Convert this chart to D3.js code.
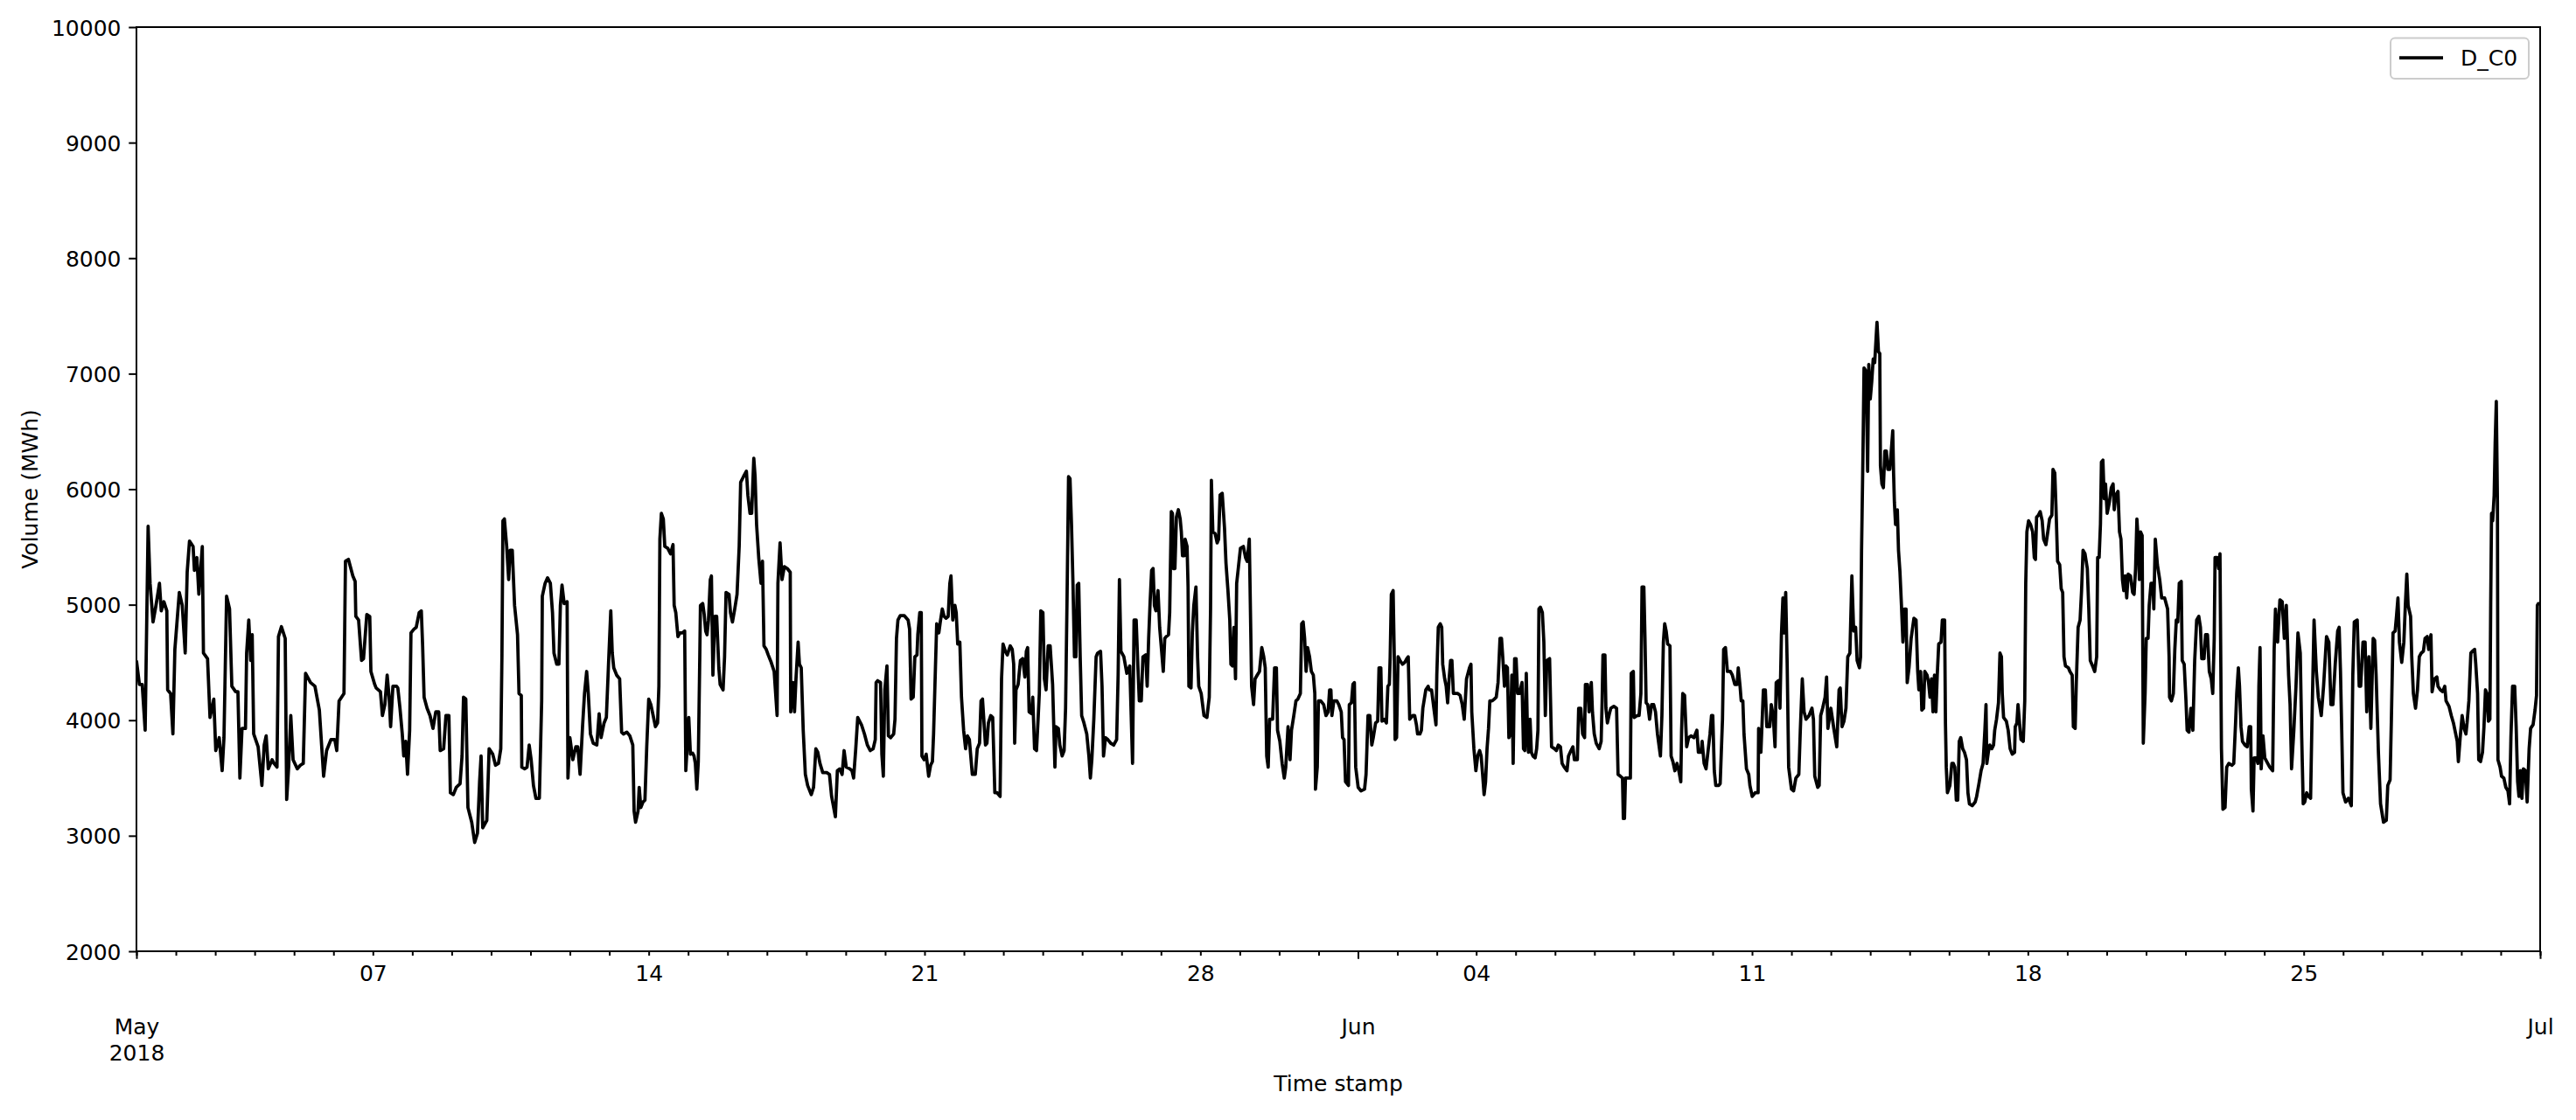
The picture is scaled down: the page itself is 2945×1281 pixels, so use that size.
<!DOCTYPE html>
<html><head><meta charset="utf-8">
<script src="https://cdn.jsdelivr.net/npm/d3@7"></script>
<style>
body{margin:0;background:#fff}
svg{display:block}
</style>
</head><body>
<svg id="chart" width="2945" height="1281"></svg>
<script>
// ---------------- data ----------------
const seriesName = "D_C0";
const xTitle = "Time stamp";
const yTitle = "Volume (MWh)";
const startDate = "2018-05-01T00:00:00Z";
const endDate = "2018-07-01T00:00:00Z";
const yDomain = [2000, 10000];
const yTicks = [2000, 3000, 4000, 5000, 6000, 7000, 8000, 9000, 10000];
// [hours since 2018-05-01 00:00, volume MWh]
const readings = [
[0,4517],[1.8,4310],[3.5,4310],[5.3,3913],[7.1,5679],[8.3,5185],[10.1,4851],[11.9,4994],[14,5185],[15.1,4947],[16.7,5026],[18.5,4947],[19,4263],[20.8,4231],[22.2,3881],[23.4,4613],[26.1,5106],[27.9,4994],[29.7,4581],[30.9,5281],[32.3,5551],[34.5,5504],[35.3,5297],[36.8,5408],[38,5090],[40.1,5504],[40.8,4581],[43.3,4533],[44.8,4024],[47.1,4183],[48.3,3737],[50.4,3849],[52.2,3563],[53.3,3849],[54.9,5074],[56.7,4963],[58.1,4294],[60.4,4247],[61.8,4247],[63,3499],[64.3,3929],[66.4,3929],[67.1,4581],[68.4,4867],[69.6,4517],[70.5,4740],[71.4,3881],[74.1,3770],[76.4,3435],[77.8,3785],[79,3865],[80.3,3579],[82.6,3658],[83.8,3626],[85.6,3594],[86.5,4724],[88.3,4810],[90.6,4708],[91.5,3314],[92.7,3594],[94,4040],[95.4,3658],[98,3579],[99.8,3610],[101.6,3626],[103,4406],[106,4326],[108.7,4294],[111.4,4088],[114,3515],[115.8,3737],[118.5,3833],[120.8,3833],[122,3737],[123.4,4167],[126.4,4231],[127.3,5376],[129.1,5392],[131.8,5249],[133.2,5201],[133.6,4899],[135.3,4867],[137.1,4517],[138.3,4533],[140.3,4915],[142.1,4899],[142.8,4422],[145.1,4310],[146,4279],
[148.6,4247],[149.8,4040],[151.3,4135],[152.7,4390],[153.9,4199],[154.8,3944],[156.2,4294],[158.4,4294],[159.2,4279],[160.5,4104],[161.9,3881],[162.8,3690],[164,3817],[165.1,3531],[166.4,3913],[167.2,4756],[169,4788],[170.4,4804],[172.2,4931],[173.5,4947],[174.3,4644],[175.2,4199],[177,4104],[178.8,4040],[180.6,3929],[182.3,4072],[184.1,4072],[185,3737],[187.1,3753],[188.5,4040],[190.3,4040],[191.2,3372],[193,3356],[194.8,3419],[197.1,3451],[198.3,3690],[199.2,4199],[200.6,4183],[201.9,3244],[204.2,3117],[206,2942],[207.7,3022],[209,3467],[209.9,3690],[210.9,3069],[213.4,3133],[214.8,3753],[217,3706],[218.7,3610],[220.5,3626],[221.9,3753],[222.6,4549],[223.2,5726],[224.1,5742],[225.5,5504],[226.7,5217],[227.6,5472],[228.9,5472],[230.3,4994],[232.1,4740],[233,4231],[234.4,4215],[234.7,3594],[236.5,3579],[237.9,3594],[239.2,3785],[240.4,3658],[241.8,3435],[243.3,3324],[245.4,3324],[246.8,4167],[247.2,5074],[248.9,5185],[250.4,5233],[252.1,5185],[253.4,4931],[254.3,4581],[256,4485],[257.3,4485],[258.2,4994],[259.2,5170],[260.5,5010],[262.3,5026],[262.8,3499],[264,3849],[265.8,3658],[267.6,3770],[268.8,3770],[270.2,3531],[271.7,3944],[272.9,4231],[274.2,4422],[275.2,4231],[276.5,3881],[278.2,3801],[280.4,3785],[281.8,4056],[283,3849],[284.8,3976],[286.2,4024],[287.7,4549],[288.9,4947],
[289.8,4581],[290.7,4454],[292.5,4390],[294.3,4358],[295.5,3897],[296.6,3881],[298.7,3897],[300.5,3865],[302.3,3785],[303.1,3213],[304,3117],[305.5,3213],[306.2,3419],[307.2,3244],[308.5,3292],[309.7,3308],[310.8,3770],[312,4183],[313.3,4135],[314.7,4040],[316.1,3944],[317.4,3976],[318.2,4294],[318.8,5567],[319.7,5790],[320.9,5742],[321.8,5504],[323.6,5488],[325.3,5440],[326.8,5520],[327.5,4994],[328.5,4931],[329.8,4724],[331,4756],[332.5,4756],[333.9,4772],[334.6,3563],[336.4,4024],[337.4,3706],[338.7,3715],[339.6,3690],[340.4,3626],[341.3,3403],[342.2,3642],[343.1,4549],[343.5,4994],[344.9,5010],[345.8,4915],[346.7,4772],[347.5,4740],[348.4,4867],[349.5,5217],[350.2,5249],[351.1,4390],[352.3,4899],[353.4,4899],[354.7,4454],[355.5,4310],[357.3,4263],[358.2,4549],[359.1,5106],[360.9,5090],[361.8,4931],[363,4851],[364.4,4963],[365.8,5090],[367.1,5504],[368,6060],[369.7,6108],[371.5,6156],[372.4,5949],[373.7,5790],[374.7,5790],[376,6267],[376.8,6108],[377.7,5695],[379,5408],[380.4,5185],[381.3,5376],[382.2,4644],[383.6,4613],[384.8,4565],[386.6,4501],[388.4,4422],[390.2,4040],[390.7,5185],[392,5535],[393.2,5217],[394.6,5329],[396.4,5313],[398.2,5281],[398.5,4072],[399.9,4326],[400.8,4072],[401.7,4358],[403,4676],[403.8,4485],[404.9,4454],[406.1,3913],[407.4,3531],[408.8,3435],[411,3356],[412.4,3419],[413.8,3753],[415,3722],[416.3,3626],[418,3547],[420.4,3547],[422.1,3531],[423.4,3340],[425.7,3165],[426.9,3563],[428.3,3579],[429.8,3531],[431,3737],[432.3,3594],
[434.5,3579],[435.8,3563],[436.8,3499],[438.1,3753],[439.3,4024],[441.6,3960],[443.4,3881],[445.2,3785],[446.9,3737],[448.7,3753],[450,3833],[450.5,4326],[451.4,4342],[453.2,4326],[454,3706],[454.9,3515],[455.8,4263],[457.1,4470],[458,3865],[459.4,3849],[461.2,3881],[462,4008],[462.9,4708],[463.8,4867],[465.2,4905],[467.7,4905],[470,4867],[470.9,4788],[471.8,4183],[473.1,4199],[474.1,4549],[475.4,4565],[475.9,4740],[477.1,4931],[478,4931],[478.4,3690],[479.8,3658],[481,3706],[482.5,3515],[483.7,3610],[484.8,3642],[485.5,3881],[486.6,4438],[487.4,4835],[488.7,4756],[489.6,4851],[490.8,4963],[491.9,4899],[493.1,4883],[494.4,4899],[495.4,5185],[496.1,5249],[497.2,4867],[498.5,4994],[499.3,4931],[500.2,4660],[501.5,4676],[502.5,4199],[503.8,3913],[505,3753],[506.1,3865],[507.3,3833],[509.1,3531],[510.9,3531],[512.1,3753],[513.5,3801],[514.4,4167],[515.3,4183],[517.1,3785],[518,3801],[518.9,3976],[520.3,4040],[521.5,4024],[522.1,3737],[522.8,3372],[524.2,3372],[526,3340],[526.9,4358],[527.8,4660],[529.2,4597],[530.4,4565],[532.2,4644],[533.4,4613],[534.3,4485],[534.9,3801],[535.7,4263],[537,4310],[538.4,4517],[539.8,4533],[541.1,4374],[542,4597],[542.8,4629],[543.7,4072],[545.2,4056],[545.9,4199],[547,3753],[548.2,3737],[549.1,3992],[549.9,4231],[550.8,4947],[552.1,4931],[553,4358],[554,4263],[555.3,4644],[556.5,4644],[558,4310],[559.4,3594],[560.1,3944],[561.5,3929],[562.4,3785],[563.8,3690],[565,3737],[565.9,4104],[566.8,5058],[567.7,6108],[568.6,6092],[569.5,5695],[570.4,5185],[571.3,4549],[572.2,4549],[573,5170],[573.9,5185],[574.8,4549],[575.7,4040],[577.1,3976],
[578.8,3881],[580.1,3690],[581,3499],[581.9,3658],[583.1,4008],[584.5,4549],[585.4,4581],[587.2,4597],[588.1,4294],[589,3690],[590.2,3849],[591.6,3833],[593.4,3801],[595.2,3785],[597,3833],[597.9,4390],[598.7,5217],[599.6,4597],[601.4,4549],[603.2,4406],[605,4470],[606.7,3626],[607.6,4867],[608.9,4867],[609.8,4517],[610.8,4167],[612,4167],[613,4549],[614.7,4565],[615.6,4294],[616.5,4708],[617.4,5026],[618.3,5297],[619.2,5313],[620,4994],[620.9,4947],[622.2,5122],[623.2,4804],[624.5,4581],[625.4,4422],[626.3,4708],[627.2,4724],[628.6,4740],[629.3,4931],[630.3,5806],[631,5790],[631.6,5313],[632.5,5313],[633.4,5758],[634.6,5822],[635.7,5742],[636.4,5631],[637.1,5424],[638.2,5424],[638.7,5567],[639.9,5504],[640.5,5154],[641,4294],[642.3,4279],[643.1,4756],[644,4994],[645.3,5154],[646.3,4549],[647,4294],[648.5,4231],[650.2,4040],[652,4024],[653.4,4199],[654.2,4963],[654.7,6077],[655.6,5631],[657,5615],[658.2,5535],[659.1,5567],[660,5949],[661.3,5965],[662.7,5663],[663.6,5360],[664.8,5122],[665.9,4867],[666.6,4485],[667.6,4470],[668.4,4804],[669.4,4358],[670.1,5185],[671.2,5329],[672.4,5488],[674.2,5504],[675.5,5408],[676.5,5376],[677.8,5567],[678.7,4756],[679.2,4294],[680.4,4135],[681.3,4358],[682.6,4390],[684,4422],[685.4,4629],[686.6,4549],[687.5,4454],[688.4,3690],[689.3,3594],[690.2,4008],[692,4008],[693.2,4454],[694.3,4454],[695,3913],[696.4,3817],[697.8,3626],[699.1,3499],[700,3594],[701.4,3944],[702.6,3658],[703.5,3913],[704.9,4040],[706.2,4167],[707.4,4183],[708.9,4231],[709.7,4835],[710.6,4851],[711.5,4708],[712.4,4422],[713.3,4629],[714.5,4549],[715.6,4422],[716.8,4390],[717.7,4231],
[718.1,3403],[719.2,3594],[719.9,4167],[721.3,4167],[723.1,4135],[724.5,4040],[725.8,4072],[726.7,4263],[727.5,4263],[728.1,4040],[729.3,4167],[731.1,4167],[732.3,4135],[733.8,4072],[734.6,3849],[735.5,3833],[736.4,3467],[738.2,3435],[738.7,4135],[740,4151],[740.9,4310],[741.8,4326],[742.6,3594],[744.1,3419],[745.8,3388],[748,3403],[748.9,3531],[750.1,4040],[751.2,4040],[752.4,3785],[753.3,3849],[754.7,3976],[756,3992],[756.8,4454],[757.9,4454],[758.6,3992],[760,4008],[761.3,3976],[762.2,4294],[763.1,4310],[763.6,4549],[764.3,5090],[765.4,5122],[766.1,4549],[766.6,3833],[767.5,3849],[768.4,4549],[769.6,4517],[771.1,4485],[772.5,4501],[773.7,4533],[774.6,4549],[775.5,4008],[777.3,4040],[778.5,4040],[779.6,3960],[780.3,3881],[781.7,3881],[782.6,3913],[783.5,4104],[784.4,4183],[785.3,4263],[786.7,4294],[787.4,4263],[788.8,4263],[790.2,4104],[791.5,3960],[792,4390],[792.9,4804],[794.1,4835],[795,4804],[795.6,4485],[796.8,4358],[797.7,4294],[798.6,4151],[799.5,4358],[800.4,4517],[801.2,4517],[802.1,4231],[803.4,4231],[804.8,4231],[806.2,4215],[807.5,4135],[808.7,4008],[810.1,4358],[811.9,4454],[812.8,4485],[813.3,4072],[814.6,3753],[815.8,3563],[816.9,3690],[818.1,3737],[819,3690],[819.9,3531],[820.8,3356],[821.7,3467],[822.6,3753],[823.5,3929],[824.3,4167],[825.7,4167],[827,4183],[828.2,4199],[829.3,4326],[830.5,4708],[831.4,4708],[832.3,4517],[833.2,4294],[834.1,4470],[835,4454],[835.9,3849],[836.8,3881],[837.7,4390],[838.5,3626],[839.4,4533],[840.3,4533],[841.2,4231],[842.4,4231],[843.9,4326],[844.8,3753],[845.6,3737],[846.5,4406],[847.1,3976],[847.8,3722],[848.8,4008],[849.6,3722],[850.6,3690],[851.9,3674],[852.8,3753],[853.6,3913],[854.2,4963],[855.1,4979],[856.3,4931],[857.2,4676],[858.1,4040],[859,4517],[860.7,4533],
[861.9,3770],[863.7,3753],[864.8,3737],[866,3785],[867.3,3770],[868.3,3626],[869.6,3594],[871.3,3563],[872.2,3690],[873.7,3737],[874.9,3770],[875.8,3658],[877.6,3658],[878.4,4104],[879.7,4104],[880.8,3881],[882,3849],[882.5,4310],[883.8,4310],[884.7,4072],[886.1,4326],[886.8,4072],[887.9,3881],[889.1,3801],[890.9,3753],[892.1,3817],[892.7,4167],[893.2,4565],[894.4,4565],[895,4104],[895.9,3976],[897.1,4056],[898,4104],[899.8,4120],[901.5,4104],[902.4,3531],[903.8,3515],[905.1,3499],[905.6,3149],[906.3,3149],[906.9,3499],[908.6,3499],[909.9,3499],[910.4,4406],[911.7,4422],[912.2,4024],[914,4040],[915.2,4040],[916.3,4231],[917,5154],[918.1,5154],[918.8,4708],[919.5,4151],[920.5,4135],[921.6,4008],[922.8,4135],[924.1,4135],[925.2,4072],[926.4,3881],[928.2,3690],[929.1,4040],[930,4676],[930.8,4835],[931.7,4772],[932.6,4660],[934,4644],[934.7,3690],[935.8,3642],[937,3563],[938.3,3626],[939.4,3563],[940.6,3467],[941.1,3913],[941.8,4231],[942.9,4215],[944.2,3770],[945.4,3849],[946.8,3865],[948.6,3849],[950.4,3913],[951.3,3722],[953,3722],[953.6,3817],[954.8,3626],[956,3579],[957.5,3770],[958.4,3881],[959.3,4040],[960.1,4040],[961,3563],[961.9,3435],[963.7,3435],[964.6,3451],[966,4008],[966.7,4613],[967.8,4629],[969,4422],[970.8,4422],[972,4390],[973.5,4310],[974.9,4310],[975.6,4454],[976.7,4294],[977.4,4167],[978.4,4167],[979.1,3881],[980.6,3579],[982,3531],[982.7,3435],[984.1,3340],[985.9,3372],[987.7,3372],[988,3929],[989.4,3722],[990.9,4263],[992.1,4263],[993,3944],[994.8,3944],[995.7,4135],[996.9,4040],[998,3770],[998.7,4326],[1000.1,4342],[1001,4104],[1001.9,4740],[1002.8,5058],[1003.6,4756],
[1004.5,5106],[1005.4,4485],[1006.3,3594],[1008,3403],[1009.3,3388],[1010.7,3499],[1012.5,3531],[1013.4,3913],[1014.6,4358],[1015.7,4072],[1016.9,4008],[1018.7,4040],[1020.5,4104],[1021.4,4008],[1022.2,3515],[1024,3419],[1024.9,3435],[1025.8,4040],[1027,4104],[1028.5,4199],[1029.4,4374],[1030.2,3929],[1032,4104],[1033.8,3929],[1035.6,3770],[1037,4263],[1037.7,4279],[1038.8,3944],[1040,3992],[1041.2,4104],[1042.3,4549],[1043.6,4581],[1044.8,5249],[1045.9,4772],[1047.1,4804],[1048,4517],[1049.4,4454],[1050.1,4549],[1050.7,5472],[1051.6,6347],[1052.2,7050],[1053.5,7020],[1054.4,6155],[1055.1,7080],[1056,6780],[1056.9,6930],[1057.8,7126],[1058.7,7095],[1060.1,7445],[1061,7190],[1061.8,7174],[1062.2,6204],[1063.1,6045],[1064,6013],[1064.9,6331],[1065.8,6331],[1066.7,6172],[1067.9,6172],[1068.8,6331],[1069.7,6506],[1070.2,6140],[1070.7,5885],[1071.4,5695],[1072.5,5822],[1073.2,5472],[1074.1,5281],[1075,4994],[1075.9,4676],[1076.8,4963],[1077.8,4963],[1078.5,4326],[1079.6,4454],[1080.9,4708],[1082.6,4883],[1083.9,4867],[1084.9,4422],[1085.6,4263],[1086.7,4422],[1087.4,4088],[1088.5,4104],[1089.2,4422],[1090.6,4390],[1091.5,4326],[1092.4,4199],[1093.3,4358],[1094.2,4072],[1095.1,4390],[1096,4072],[1096.8,4390],[1097.7,4660],[1099.1,4676],[1099.9,4867],[1101.3,4867],[1101.8,3976],[1102.3,3594],[1103,3372],[1104.5,3435],[1105.7,3626],[1106.6,3626],[1107.5,3594],[1108.4,3308],[1109.3,3308],[1110.2,3817],[1111.1,3849],[1112.3,3753],[1113.4,3722],[1114.6,3658],[1115.5,3372],[1116.4,3276],[1118.1,3260],[1119.9,3292],[1120.8,3340],[1122.2,3451],[1123.5,3563],[1124.7,3626],[1125.8,3913],[1126.5,4135],[1127,3626],[1127.9,3722],[1128.8,3785],[1130,3753],[1131.1,3785],[1131.8,3913],[1132.9,4008],[1134.1,4151],[1135,4581],[1135.9,4549],[1136.4,4231],[1137.2,4024],[1138.9,3992],[1140,3913],[1141.2,3753],[1142.5,3706],[1143.9,3722],[1144.3,3944],[1145.3,3976],[1146,4135],[1147.1,3944],[1147.8,3833],[1149.2,3817],[1150.1,4167],[1150.7,5185],[1151.4,5631],[1152.4,5726],
[1153.6,5695],[1154.9,5631],[1155.9,5408],[1156.6,5392],[1157.3,5758],[1158.4,5774],[1159.5,5806],[1160.7,5726],[1161.6,5567],[1163,5520],[1164.3,5647],[1165.2,5742],[1166.6,5774],[1167.3,6172],[1168.4,6140],[1169.1,5854],[1170.1,5376],[1171.4,5345],[1172.3,5138],[1173.2,5106],[1174,4549],[1174.9,4470],[1176.7,4454],[1177.6,4422],[1179,4390],[1179.7,3944],[1180.8,3929],[1181.5,4326],[1182.6,4804],[1183.8,4867],[1184.7,5122],[1185.6,5472],[1186.8,5440],[1188.2,5313],[1189.1,4963],[1190,4517],[1191.4,4470],[1192.7,4422],[1193.9,4549],[1194.5,5408],[1195.4,5408],[1196.2,5695],[1196.8,6235],[1197.7,6251],[1198.5,5917],[1199.3,6045],[1200.3,5790],[1201.6,5886],[1202.8,6013],[1203.9,6045],[1204.6,5822],[1205.6,5949],[1206.9,5981],[1207.8,5631],[1208.7,5567],[1209.6,5217],[1210.4,5122],[1211.3,5249],[1212.2,5058],[1213.1,5265],[1214.5,5249],[1215.8,5106],[1216.7,5090],[1217.6,5313],[1218.4,5742],[1219.3,5536],[1219.9,5217],[1220.6,5631],[1221.6,5599],[1222.3,3801],[1223.4,4231],[1224.1,4708],[1225.2,4708],[1225.9,4994],[1227,5185],[1228.2,5185],[1228.7,4963],[1229.6,5567],[1230.9,5345],[1232.3,5217],[1233.5,5058],[1235.3,5058],[1237.1,4963],[1238,4549],[1238.3,4199],[1239.4,4167],[1240.6,4231],[1241.5,4613],[1242.4,4867],[1243.3,4851],[1244.2,5185],[1245.4,5201],[1246,4517],[1247.2,4485],[1248.3,4167],[1249,3913],[1250.1,3897],[1251.3,4104],[1252.5,3913],[1253.6,4517],[1254.8,4867],[1256.1,4899],[1257.1,4804],[1257.9,4533],[1259.3,4533],[1260.2,4740],[1261.4,4740],[1262.5,4422],[1263.7,4358],[1264.6,4231],[1265.5,4708],[1266,5408],[1267.3,5408],[1268.2,5313],[1269,5440],[1269.9,3753],[1270.8,3229],[1272.1,3244],[1273.1,3594],[1274.4,3626],[1276.2,3610],[1277.4,3626],[1278.5,3976],[1279.2,4231],[1280.2,4454],[1280.9,4294],[1281.8,3944],[1282.7,3817],[1284.2,3785],[1285.6,3770],[1286.8,3944],[1287.7,3944],[1288.1,3403],[1289.1,3213],[1289.8,3674],[1291.2,3674],[1292.1,3626],[1292.7,4294],[1293.4,4629],[1294.1,3579],[1295.2,3865],
[1296.3,3674],[1297.5,3642],[1299.3,3594],[1301.1,3563],[1302,4613],[1302.8,4963],[1304.1,4676],[1305.5,5042],[1306.9,5026],[1308.2,4708],[1309.4,4994],[1310.8,4390],[1311.7,4135],[1312.6,3579],[1314,3913],[1315.3,4294],[1316.5,4756],[1317.9,4581],[1318.8,3849],[1319.7,3276],[1320.6,3292],[1321.8,3372],[1322.9,3340],[1324.2,3324],[1325,3976],[1326.3,4867],[1327.7,4422],[1328.9,4199],[1330.7,4040],[1332.1,4294],[1333.9,4724],[1335.3,4676],[1336.6,4135],[1337.8,4135],[1339.2,4485],[1340.7,4772],[1341.6,4804],[1342.4,4422],[1343.2,3881],[1343.9,3372],[1345.5,3292],[1347.2,3324],[1349,3260],[1349.9,4390],[1350.8,4851],[1352.6,4867],[1353.8,4294],[1354.7,4294],[1356.1,4676],[1357.4,4676],[1358.4,4072],[1359.7,4549],[1360.9,3929],[1362.3,4708],[1363.2,4692],[1364.1,4390],[1365.5,3722],[1366.8,3276],[1368.6,3117],[1370.3,3133],[1371.2,3435],[1372.6,3483],[1373.4,4008],[1374.4,4756],[1375.7,4772],[1376.5,4899],[1377.4,5058],[1378.3,4676],[1379.7,4501],[1381,4676],[1381.9,4994],[1382.8,5265],[1383.6,4994],[1385.1,4899],[1385.8,4549],[1386.8,4231],[1388.1,4104],[1389.3,4263],[1390.4,4549],[1391.6,4581],[1392.9,4597],[1393.9,4708],[1395.2,4724],[1396.1,4613],[1397.5,4740],[1398.2,4247],[1399.6,4358],[1401.1,4374],[1401.8,4294],[1403.2,4263],[1404.6,4247],[1405.9,4294],[1406.7,4167],[1408.5,4120],[1409.9,4040],[1411.2,3976],[1412.1,3913],[1413.5,3817],[1414.2,3642],[1415.3,3849],[1416.5,4040],[1417.7,3929],[1418.8,3881],[1419.5,3976],[1420.6,4167],[1421.8,4581],[1422.7,4597],[1424.1,4613],[1424.8,4485],[1425.9,4231],[1426.6,3658],[1427.7,3642],[1428.9,3722],[1429.8,3944],[1430.7,4263],[1431.6,4231],[1432.5,3992],[1433.4,4008],[1433.9,5026],[1434.4,5790],[1435.1,5726],[1436,5949],[1436.6,6395],[1437.3,6760],[1438,5885],[1438.3,3658],[1439.6,3594],[1440.5,3515],[1441.9,3499],[1443.1,3419],[1444.4,3388],[1445.4,3276],[1446.2,3849],[1447.2,4294],[1448.5,4294],[1449.4,3944],[1450.3,3467],[1451.1,3340],[1452,3563],[1452.9,3324],[1453.8,3579],[1455,3563],[1456.1,3292],[1457.3,3753],[1458.2,3929],[1459.7,3961],[1460.9,4088],[1461.8,4215],[1462.3,4994],[1462.9,5010],[1464,5010]
];

// ---------------- layout ----------------
const FONT = "'DejaVu Sans', 'Liberation Sans', sans-serif";
const FS = 25;
const plot = {left: 156, right: 2904, top: 31, bottom: 1088};

const svg = d3.select("#chart");
svg.append("rect").attr("width", 2945).attr("height", 1281).attr("fill", "#fff");

const t0 = new Date(startDate), t1 = new Date(endDate);
const x = d3.scaleUtc().domain([t0, t1]).range([plot.left, plot.right]);
const y = d3.scaleLinear().domain(yDomain).range([plot.bottom, plot.top]);
const toDate = h => new Date(t0.getTime() + h * 3600000);

// clip
svg.append("clipPath").attr("id", "clip").append("rect")
  .attr("x", plot.left).attr("y", plot.top)
  .attr("width", plot.right - plot.left).attr("height", plot.bottom - plot.top);

// line
const line = d3.line().x(d => x(toDate(d[0]))).y(d => y(d[1]));
svg.append("path").datum(readings)
  .attr("clip-path", "url(#clip)")
  .attr("d", line).attr("fill", "none")
  .attr("stroke", "#000").attr("stroke-width", 3.75)
  .attr("stroke-linejoin", "round").attr("stroke-linecap", "butt");

// frame
svg.append("rect").attr("x", plot.left).attr("y", plot.top)
  .attr("width", plot.right - plot.left).attr("height", plot.bottom - plot.top)
  .attr("fill", "none").attr("stroke", "#000").attr("stroke-width", 2);

function styleAxis(g) {
  g.select(".domain").remove();
  g.selectAll(".tick line").attr("stroke", "#000").attr("stroke-width", 2);
  g.selectAll("text").attr("font-family", FONT).attr("font-size", FS).attr("fill", "#000");
}

// y axis
svg.append("g").attr("transform", `translate(${plot.left},0)`)
  .call(d3.axisLeft(y).tickValues(yTicks).tickSize(8.75).tickPadding(8.75).tickFormat(d3.format("d")))
  .call(styleAxis)
  .call(g => g.selectAll("text").attr("dy", null).attr("y", 9));

// x minor (daily) ticks with weekly labels
const days = d3.utcDay.range(t0, new Date(t1.getTime() + 1));
const fmtDay = d3.utcFormat("%d");
svg.append("g").attr("transform", `translate(0,${plot.bottom})`)
  .call(d3.axisBottom(x).tickValues(days).tickSize(5)
    .tickFormat(d => d.getUTCDay() === 1 ? fmtDay(d) : ""))
  .call(styleAxis)
  .call(g => g.selectAll("text").attr("dy", null).attr("y", 34));

// x major (monthly) ticks
const months = d3.utcMonth.range(t0, new Date(t1.getTime() + 1));
const fmtMon = d3.utcFormat("%b"), fmtYear = d3.utcFormat("%Y");
const majorG = svg.append("g").attr("transform", `translate(0,${plot.bottom})`)
  .call(d3.axisBottom(x).tickValues(months).tickSize(8.75).tickFormat(""))
  .call(styleAxis);
majorG.selectAll(".tick").each(function(d, i) {
  const t = d3.select(this).append("text")
    .attr("font-family", FONT).attr("font-size", FS).attr("fill", "#000")
    .attr("text-anchor", "middle");
  t.append("tspan").attr("x", 0).attr("y", 95).text(fmtMon(d));
  if (i === 0) t.append("tspan").attr("x", 0).attr("y", 125).text(fmtYear(d));
});

// axis titles
svg.append("text").attr("x", (plot.left + plot.right) / 2).attr("y", 1248)
  .attr("text-anchor", "middle").attr("font-family", FONT).attr("font-size", FS)
  .text(xTitle);
svg.append("text").attr("transform", `translate(43,${(plot.top + plot.bottom) / 2}) rotate(-90)`)
  .attr("text-anchor", "middle").attr("font-family", FONT).attr("font-size", FS)
  .text(yTitle);

// legend
const lg = svg.append("g");
lg.append("rect").attr("x", 2733).attr("y", 43.5).attr("width", 158).attr("height", 46.5)
  .attr("rx", 5).attr("fill", "#fff").attr("fill-opacity", 0.8)
  .attr("stroke", "#cccccc").attr("stroke-width", 2);
lg.append("line").attr("x1", 2743).attr("x2", 2793).attr("y1", 66).attr("y2", 66)
  .attr("stroke", "#000").attr("stroke-width", 3.75);
lg.append("text").attr("x", 2813).attr("y", 75)
  .attr("font-family", FONT).attr("font-size", FS).text(seriesName);
</script>
</body></html>
